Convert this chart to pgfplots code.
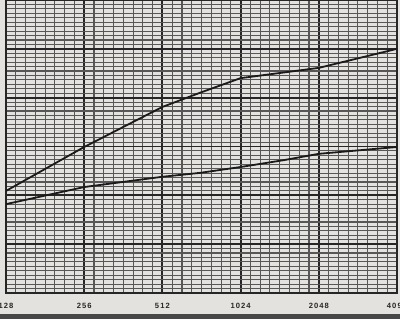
\documentclass[border=0pt]{standalone}
\usepackage{pgfplots}
\pgfplotsset{compat=1.18}
\usepackage{fontspec}
\setmainfont{Liberation Sans}
\newfontfamily\lab[LetterSpace=14]{Liberation Sans}
\definecolor{paper}{HTML}{E4E2DE}
\definecolor{ink}{HTML}{1A1A1A}
\begin{document}
\begin{tikzpicture}[x=1pt,y=1pt]
\fill[paper] (0,0) rectangle (400,319);
\fill[black!72] (0,0) rectangle (400,4.5);
\begin{axis}[at={(6pt,26pt)}, anchor=south west,
  width=391pt, height=293pt, scale only axis,
  xmin=7, xmax=12, ymin=0, ymax=6,
  xtick={7,8,9,10,11,12}, xticklabels={128,256,512,1024,2048,4096},
  ytick={0,1,2,3,4,5,6}, yticklabels={},
  minor x tick num=7, minor y tick num=10,
  grid=both,
  major grid style={line width=1.9pt, color=black!85},
  minor grid style={line width=1.1pt, color=black!66},
  axis line style={line width=2pt, black!85},
  tick style={draw=none},
  xticklabel style={font=\lab\bfseries\fontsize{7.6}{7.6}\selectfont, anchor=center, yshift=-13pt, text=black!85},
  clip=true,
]
\addplot[ink, line width=1.8pt] coordinates {
  (7.0,2.09) (8.0,2.99) (9.0,3.81) (9.48,4.10) (10.0,4.40) (11.0,4.61) (12.0,5.00)
};
\addplot[ink, line width=1.8pt] coordinates {
  (7.0,1.82) (8.0,2.17) (9.0,2.38) (9.48,2.46) (10.0,2.58) (10.55,2.72) (11.0,2.85) (12.0,2.99)
};
\end{axis}
\pgfresetboundingbox
\useasboundingbox (0,0) rectangle (400,319);
\end{tikzpicture}
\end{document}
